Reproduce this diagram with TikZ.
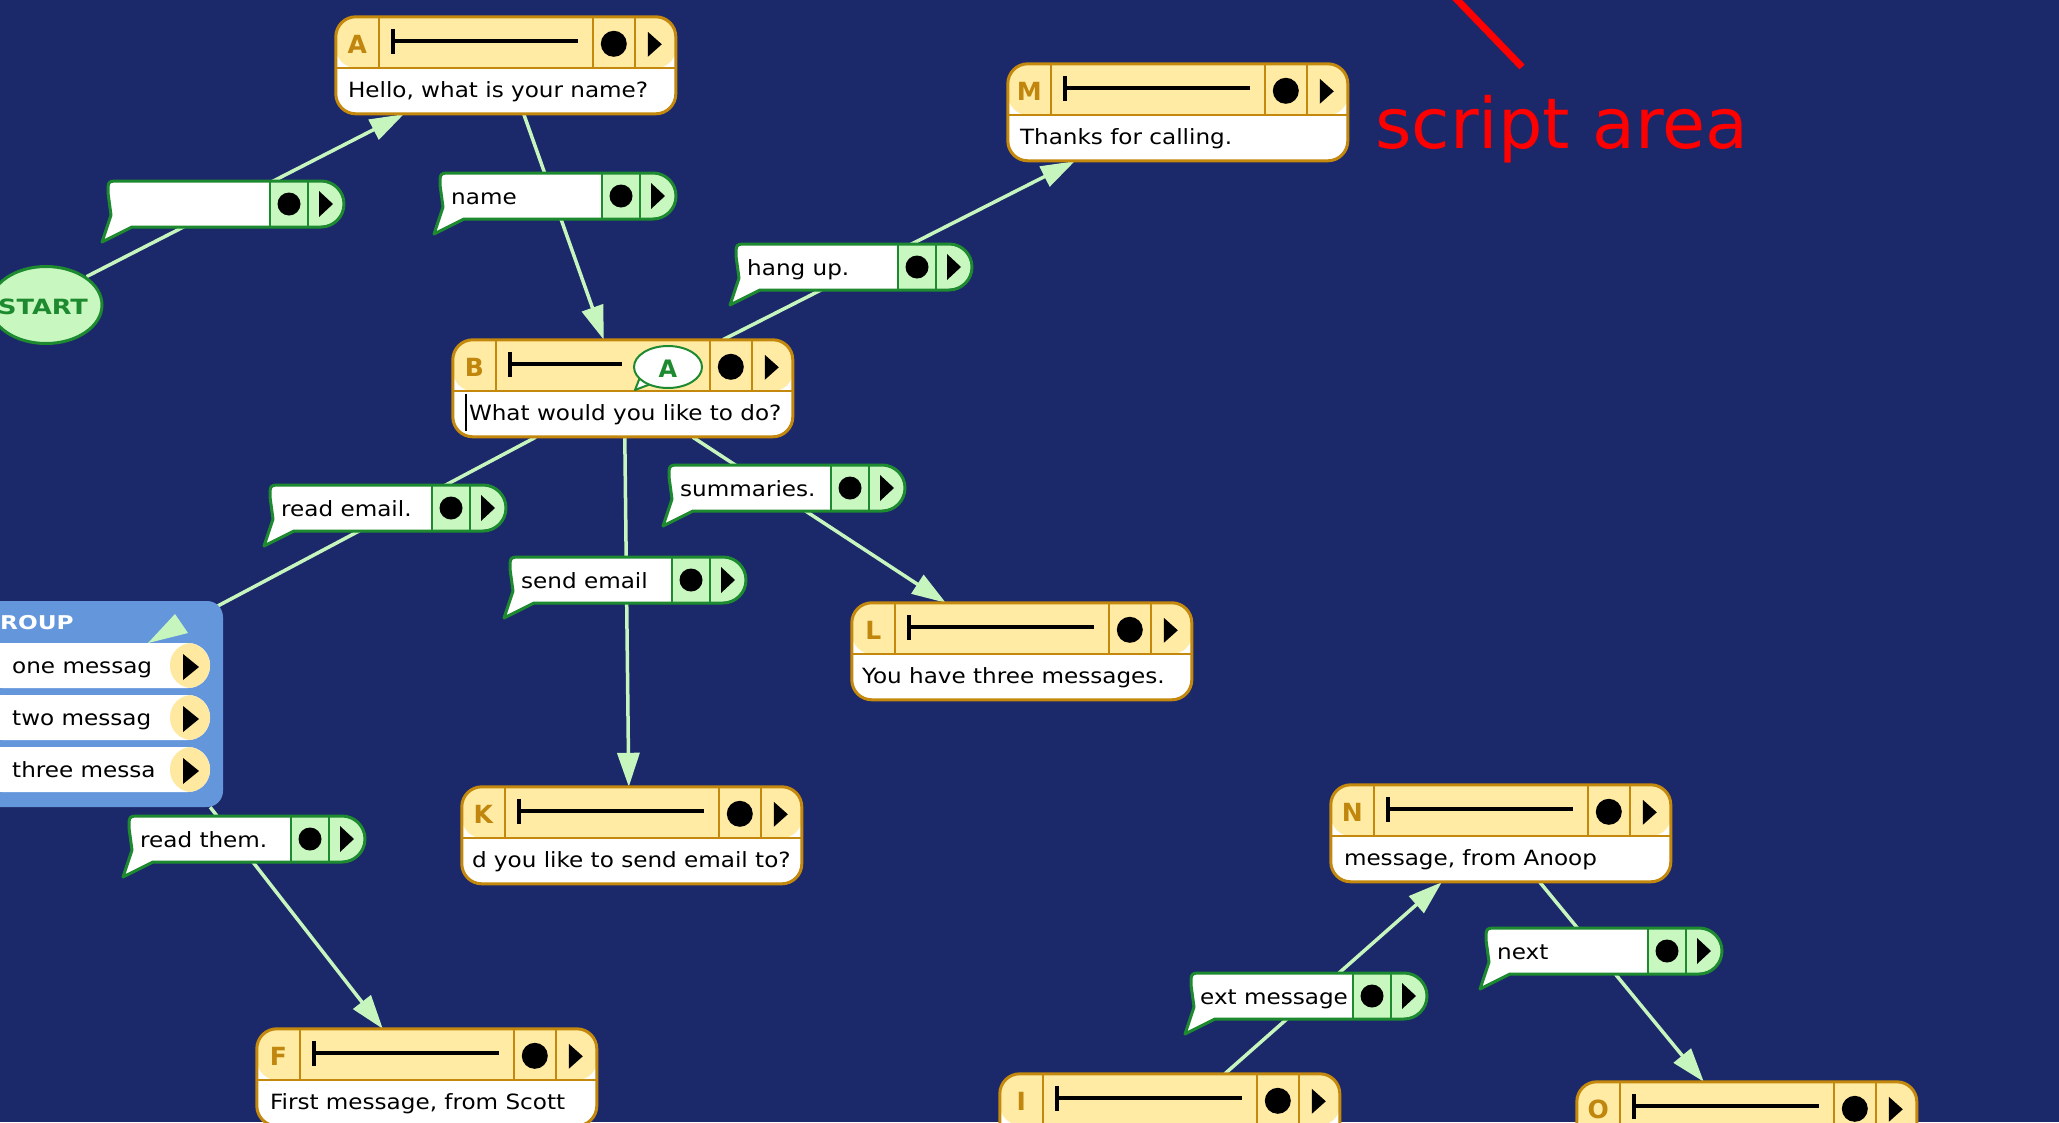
\documentclass[tikz,border=0pt]{standalone}
\usepackage{fontspec}
\setmainfont{DejaVu Sans}
\newfontfamily\uifont[FakeStretch=1.1]{DejaVu Sans}
\newfontfamily\tagfont[FakeStretch=1.22]{DejaVu Sans}
\usetikzlibrary{arrows.meta,calc,shapes.geometric}

\definecolor{canvasnavy}{HTML}{1B286A}
\definecolor{headeryellow}{HTML}{FFEBA3}
\definecolor{framegold}{HTML}{C4880C}
\definecolor{lettergold}{HTML}{C0860E}
\definecolor{wiregreen}{HTML}{C6F6BE}
\definecolor{leafgreen}{HTML}{1E8A30}
\definecolor{mint}{HTML}{C8F8C0}
\definecolor{groupblue}{HTML}{6496DC}
\definecolor{pillyellow}{HTML}{FFE8A0}
\definecolor{notered}{HTML}{FF0000}

\pgfdeclarelayer{canvaslayer}
\pgfdeclarelayer{wirelayer}
\pgfsetlayers{canvaslayer,wirelayer,main}

\tikzset{
  promptframe/.style={rectangle, inner sep=0pt, minimum width=340pt, minimum height=97pt,
    rounded corners=20pt, fill=white,
    path picture={\fill[headeryellow] (path picture bounding box.north west)
      rectangle ([yshift=-51pt]path picture bounding box.north east);}},
  promptedge/.style={draw=framegold, line width=3pt, rounded corners=20pt},
  cellrule/.style={draw=framegold, line width=2pt},
  tagletter/.style={text=lettergold, inner sep=0pt, font=\fontsize{25}{30}\selectfont\bfseries},
  sliderbar/.style={line width=4pt, draw=black},
  bodytext/.style={anchor=base west, inner sep=0pt, font=\uifont\fontsize{21}{25}\selectfont},
  bubblerule/.style={draw=leafgreen, line width=2pt},
  bubbleedge/.style={draw=leafgreen, line width=3pt, line join=round},
  wireline/.style={draw=wiregreen, line width=3.5pt},
  wirehead/.style={wireline, -{Triangle[length=34pt,width=22pt]}},
  pillbody/.style={rectangle, inner sep=0pt, minimum width=230pt, minimum height=45pt,
    rounded corners=22pt, fill=white,
    path picture={\fill[pillyellow] ([xshift=-40pt]path picture bounding box.north east)
      rectangle (path picture bounding box.south east);}},
}

% prompt block: name, left, top, letter, text, slider end, text offset
\newcommand\promptbox[7]{%
  \node[promptframe] (#1) at (#2+170,#3+48.5) {};
  \begin{scope}[shift={(#1.north west)}]
    \draw[cellrule] (0,51) -- (340,51);
    \draw[cellrule] (43,0) -- (43,51) (257,0) -- (257,51) (299,0) -- (299,51);
    \node[tagletter] (#1tag) at (21.5,28) {#4};
    \draw[sliderbar] (57,12) -- (57,37) (57,24) -- (#6,24);
    \fill (278,27) circle[radius=13pt];
    \fill (312,15) -- (326,27.5) -- (312,40) -- cycle;
    \node[bodytext] (#1text) at (#7,81) {#5};
    \draw[promptedge] (0,0) rectangle (340,97);
  \end{scope}}

% answer bubble: name, left, top, text, text offset
\newcommand\replybubble[5]{%
  \begin{scope}[shift={(#2,#3)}]
    \fill[white] (0,12) .. controls (0,0) .. (12,0) -- (213,0)
      .. controls (225.7,0) and (236,10.3) .. (236,23)
      .. controls (236,35.7) and (225.7,46) .. (213,46)
      -- (24,46) -- (-6,61) -- (3,34) -- cycle;
    \fill[mint] (162,0) -- (213,0)
      .. controls (225.7,0) and (236,10.3) .. (236,23)
      .. controls (236,35.7) and (225.7,46) .. (213,46) -- (162,46) -- cycle;
    \draw[bubblerule] (162,0) -- (162,46) (200,0) -- (200,46);
    \draw[bubbleedge] (0,12) .. controls (0,0) .. (12,0) -- (213,0)
      .. controls (225.7,0) and (236,10.3) .. (236,23)
      .. controls (236,35.7) and (225.7,46) .. (213,46)
      -- (24,46) -- (-6,61) -- (3,34) -- cycle;
    \fill (181,23) circle[radius=11.5pt];
    \fill (211,10) -- (225,23) -- (211,36) -- cycle;
    \node[bodytext] (#1) at (#5,31) {#4};
  \end{scope}}

% choice row inside the group: name, top, text
\newcommand\pillrow[3]{%
  \node[pillbody] (#1) at (95,#2+22.5) {};
  \node[bodytext] (#1text) at (12,#2+30) {#3};
  \fill (183,#2+11) -- (199,#2+24) -- (183,#2+37) -- cycle;}

\begin{document}
\begin{tikzpicture}[x=1pt,y=-1pt]
\useasboundingbox (0,0) rectangle (2059,1122);
\begin{pgfonlayer}{canvaslayer}
  \fill[canvasnavy] (0,0) rectangle (2059,1122);
\end{pgfonlayer}

% start marker
\node[ellipse, inner sep=0pt, minimum width=112pt, minimum height=77pt,
  fill=mint, draw=leafgreen, line width=3pt] (start) at (46,305) {};
\node[inner sep=0pt, text=leafgreen,
  font=\tagfont\fontsize{21}{25}\selectfont\bfseries] (starttext) at (43,307) {START};

% prompt blocks
\promptbox{A}{336}{17}{A}{Hello, what is your name?}{242}{12}
\promptbox{M}{1008}{64}{M}{Thanks for calling.}{242}{12}
\promptbox{B}{453}{340}{B}{What would you like to do?}{169}{16}
\promptbox{L}{852}{603}{L}{You have three messages.}{242}{10}
\promptbox{K}{462}{787}{K}{d you like to send email to?}{242}{10}
\promptbox{N}{1331}{785}{N}{message, from Anoop}{242}{13}
\promptbox{F}{257}{1029}{F}{First message, from Scott}{242}{13}
\promptbox{I}{1000}{1074}{I}{}{242}{12}
\promptbox{O}{1577}{1082}{O}{}{242}{12}

% recall bubble and text cursor inside B
\filldraw[fill=white, draw=leafgreen, line width=2pt, line join=round]
  (642,372) -- (635,390) -- (656,382);
\node[ellipse, inner sep=0pt, minimum width=68pt, minimum height=42pt,
  fill=white, draw=leafgreen, line width=2pt] (recallB) at (668,367) {};
\node[inner sep=0pt, text=leafgreen, font=\fontsize{24}{28}\selectfont\bfseries]
  (recallBtext) at (668,369) {A};
\draw[line width=2pt] (466,394) -- (466,431);

% answer bubbles
\replybubble{blankans}{108}{181}{}{11}
\replybubble{nameans}{440}{173}{name}{11}
\replybubble{hangup}{736}{244}{hang up.}{11}
\replybubble{reademail}{270}{485}{read email.}{11}
\replybubble{summaries}{669}{465}{summaries.}{11}
\replybubble{sendemail}{510}{557}{send email}{11}
\replybubble{readthem}{129}{816}{read them.}{11}
\replybubble{nextans}{1486}{928}{next}{11}
\replybubble{nextmsg}{1191}{973}{ext message}{9}

% group of choices
\node[rectangle, inner sep=0pt, minimum width=243pt, minimum height=206pt,
  rounded corners=16pt, fill=groupblue] (group) at (101.5,704) {};
\node[anchor=west, inner sep=0pt, text=white,
  font=\tagfont\fontsize{19}{23}\selectfont\bfseries] (grouptitle) at (0,623) {ROUP};
\coordinate (readtip) at (148,643);
\fill[wiregreen] (175,614) -- (188,633) -- (readtip) -- cycle;
\pillrow{pillone}{643}{one messag}
\pillrow{pilltwo}{695}{two messag}
\pillrow{pillthree}{747}{three messa}

% connectors
\begin{pgfonlayer}{wirelayer}
  \draw[wirehead] (start.35) -- ($(A.south west)+(68,0)$);
  \draw[wirehead] ($(A.south west)+(188,0)$) -- ($(B.north west)+(151,0)$);
  \draw[wirehead] ($(B.north west)+(270,0)$) -- ($(M.south west)+(67,0)$);
  \draw[wireline] ($(B.south west)+(83,0)$) -- (readtip);
  \draw[wirehead] ($(B.south west)+(172,0)$) -- ($(K.north west)+(167,0)$);
  \draw[wirehead] ($(B.south west)+(240,0)$) -- ($(L.north west)+(94,0)$);
  \draw[wirehead] ($(group.south east)+(-13,0)$) -- ($(F.north west)+(126,0)$);
  \draw[wirehead] ($(I.north west)+(225,0)$) -- ($(N.south west)+(111,0)$);
  \draw[wirehead] ($(N.south west)+(209,0)$) -- ($(O.north west)+(127,0)$);
\end{pgfonlayer}

% annotation
\node[anchor=base west, inner sep=0pt, text=notered,
  font=\fontsize{70}{84}\selectfont] (scriptlabel) at (1375,148) {script area};
\coordinate (pointerstart) at (1522,67);
\coordinate (pointerend) at (1438,-20);
\draw[notered, line width=7pt] (pointerstart) -- (pointerend);
\end{tikzpicture}
\end{document}
